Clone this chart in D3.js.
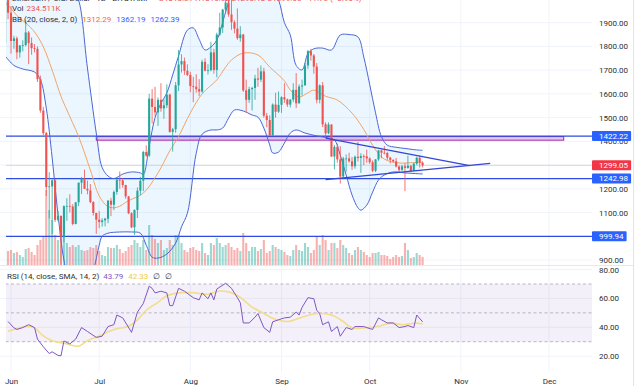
<!DOCTYPE html>
<html><head><meta charset="utf-8">
<script src="https://cdn.jsdelivr.net/npm/d3@7"></script>
<style>html,body{margin:0;padding:0;background:#fff;}svg{display:block;font-family:Roboto,"Noto Sans",sans-serif;}</style>
</head><body><svg id="c" width="640" height="386"></svg>
<script>
// ---------- DATA ----------
const dates = ["2022-05-30","2022-05-31",
"2022-06-01","2022-06-02","2022-06-03","2022-06-04","2022-06-05","2022-06-06","2022-06-07","2022-06-08","2022-06-09","2022-06-10","2022-06-11","2022-06-12","2022-06-13","2022-06-14","2022-06-15","2022-06-16","2022-06-17","2022-06-18","2022-06-19","2022-06-20","2022-06-21","2022-06-22","2022-06-23","2022-06-24","2022-06-25","2022-06-26","2022-06-27","2022-06-28","2022-06-29","2022-06-30",
"2022-07-01","2022-07-02","2022-07-03","2022-07-04","2022-07-05","2022-07-06","2022-07-07","2022-07-08","2022-07-09","2022-07-10","2022-07-11","2022-07-12","2022-07-13","2022-07-14","2022-07-15","2022-07-16","2022-07-17","2022-07-18","2022-07-19","2022-07-20","2022-07-21","2022-07-22","2022-07-23","2022-07-24","2022-07-25","2022-07-26","2022-07-27","2022-07-28","2022-07-29","2022-07-30","2022-07-31",
"2022-08-01","2022-08-02","2022-08-03","2022-08-04","2022-08-05","2022-08-06","2022-08-07","2022-08-08","2022-08-09","2022-08-10","2022-08-11","2022-08-12","2022-08-13","2022-08-14","2022-08-15","2022-08-16","2022-08-17","2022-08-18","2022-08-19","2022-08-20","2022-08-21","2022-08-22","2022-08-23","2022-08-24","2022-08-25","2022-08-26","2022-08-27","2022-08-28","2022-08-29","2022-08-30","2022-08-31",
"2022-09-01","2022-09-02","2022-09-03","2022-09-04","2022-09-05","2022-09-06","2022-09-07","2022-09-08","2022-09-09","2022-09-10","2022-09-11","2022-09-12","2022-09-13","2022-09-14","2022-09-15","2022-09-16","2022-09-17","2022-09-18","2022-09-19","2022-09-20","2022-09-21","2022-09-22","2022-09-23","2022-09-24","2022-09-25","2022-09-26","2022-09-27","2022-09-28","2022-09-29","2022-09-30",
"2022-10-01","2022-10-02","2022-10-03","2022-10-04","2022-10-05","2022-10-06","2022-10-07","2022-10-08","2022-10-09","2022-10-10","2022-10-11","2022-10-12","2022-10-13","2022-10-14","2022-10-15","2022-10-16","2022-10-17","2022-10-18","2022-10-19"];

const open = [1813,1995,
1942,1823,1834,1775,1804,1806,1859,1814,1793,1790,1662,1530,1435,1207,1210,1236,1069,1086,996,1127,1128,1125,1052,1143,1226,1243,1200,1193,1144,1098,
1070,1060,1067,1074,1150,1133,1187,1238,1236,1216,1168,1097,1038,1111,1192,1234,1355,1340,1580,1545,1522,1575,1539,1552,1597,1440,1451,1636,1724,1738,1697,
1680,1633,1630,1620,1610,1735,1698,1700,1775,1701,1850,1880,1955,1985,1935,1902,1875,1835,1850,1615,1575,1620,1625,1665,1660,1695,1508,1490,1425,1555,1525,
1554,1586,1577,1555,1576,1617,1560,1631,1636,1720,1780,1762,1715,1575,1636,1472,1434,1471,1336,1377,1324,1252,1328,1328,1316,1295,1335,1330,1338,1337,
1328,1312,1276,1324,1362,1352,1351,1331,1322,1316,1294,1280,1295,1288,1297,1275,1306,1331,1310];
const high = [2005,2010,
1970,1845,1842,1806,1826,1912,1865,1838,1810,1800,1677,1545,1440,1270,1240,1240,1106,1087,1130,1160,1177,1135,1145,1226,1250,1281,1235,1220,1148,1099,
1106,1076,1078,1153,1162,1193,1244,1273,1246,1217,1170,1101,1113,1206,1250,1360,1383,1600,1620,1630,1585,1645,1580,1640,1600,1457,1650,1785,1767,1753,1725,
1693,1672,1683,1662,1744,1750,1725,1820,1790,1858,1942,1958,2020,2030,2012,1910,1960,1885,1853,1660,1630,1630,1680,1710,1720,1710,1520,1510,1560,1605,1610,
1590,1645,1580,1578,1645,1688,1640,1660,1730,1785,1790,1768,1730,1640,1650,1480,1480,1472,1385,1390,1380,1335,1345,1352,1334,1340,1398,1350,1345,1365,
1333,1320,1325,1364,1365,1380,1356,1335,1324,1330,1298,1300,1308,1340,1300,1310,1335,1340,1315];
const low = [1792,1915,
1770,1790,1746,1753,1779,1800,1725,1765,1775,1650,1520,1425,1170,1075,1010,1060,1062,880,975,1065,1101,1046,1050,1127,1178,1200,1177,1140,1087,1010,
1034,1040,1042,1055,1085,1110,1175,1200,1205,1158,1093,1034,1006,1077,1173,1190,1334,1335,1475,1505,1465,1525,1495,1540,1436,1357,1436,1612,1690,1680,1675,
1607,1565,1605,1590,1604,1695,1682,1695,1685,1670,1845,1857,1942,1925,1870,1855,1828,1820,1608,1520,1562,1530,1575,1630,1650,1500,1460,1425,1422,1500,1520,
1520,1562,1545,1543,1565,1540,1560,1593,1635,1705,1740,1685,1560,1560,1460,1415,1430,1335,1282,1310,1222,1240,1272,1310,1280,1285,1315,1267,1300,1310,
1305,1270,1270,1318,1329,1345,1320,1307,1310,1290,1270,1275,1190,1285,1275,1275,1300,1290,1290];
const close = [1995,1942,
1823,1834,1775,1804,1806,1859,1814,1793,1790,1662,1530,1435,1207,1210,1236,1069,1086,996,1127,1128,1125,1052,1143,1226,1243,1200,1193,1144,1098,1070,
1060,1067,1074,1150,1133,1187,1238,1236,1216,1168,1097,1038,1111,1192,1234,1355,1340,1580,1545,1522,1575,1539,1552,1597,1440,1451,1636,1724,1738,1697,1680,
1633,1630,1620,1610,1735,1698,1700,1775,1701,1850,1880,1955,1985,1935,1902,1875,1835,1850,1615,1575,1620,1625,1665,1660,1695,1508,1490,1425,1555,1525,1554,
1586,1577,1555,1576,1617,1560,1631,1636,1720,1780,1762,1715,1575,1636,1472,1434,1471,1336,1377,1324,1252,1328,1328,1316,1295,1335,1330,1338,1337,1328,
1312,1276,1324,1362,1352,1351,1331,1322,1316,1294,1280,1295,1288,1297,1275,1306,1331,1310,1299.05];
// volume in thousands
const volume = [522,406,
435,348,377,290,232,464,493,377,290,580,725,812,2175,1595,1305,870,725,1305,870,638,522,580,522,580,435,406,435,522,493,580,
406,290,261,522,493,493,580,464,348,406,522,580,725,638,522,725,435,1160,870,754,638,725,435,493,725,580,870,870,638,435,
377,493,522,435,406,638,348,290,638,580,783,638,522,580,638,522,435,493,406,928,638,406,522,522,406,464,725,348,406,580,522,
464,435,377,290,261,435,580,435,406,638,522,348,435,812,580,870,725,435,638,638,493,725,580,493,348,290,435,522,435,377,
290,232,348,348,377,290,290,261,174,232,290,232,261,638,435,203,232,348,290,234.511];

// Bollinger Bands (20, close, 2): day offset from 2022-06-01 -> price
const bbUpperDays = [-2,2,6,10,14,18,21,23,26,29,31,33,35,38,41,44,45,47,49,51,53,55,57,60,62,64,66,68,70,73,76,80,84,88,91,93,95,97,99,101,103,106,109,112,115,118,120,122,124,126,128,131,134,137,140];
const bbUpper = [2170,2130,2110,2100,2120,2080,2040,1995,1709,1435,1290,1254,1243,1262,1271,1267,1260,1380,1500,1560,1604,1680,1760,1869,1878,1830,1785,1798,1827,1945,2060,2150,2140,2060,1996,1900,1848,1720,1701,1770,1790,1793,1785,1848,1850,1840,1755,1640,1520,1420,1384,1375,1370,1365,1362.19];
const bbBasisDays = [-2,0,2,5,8,11,14,17,19,23,27,30,33,36,40,45,50,54,57,61,65,70,73,75,79,84,88,93,95,98,101,103,107,111,116,120,124,127,132,136,140];
const bbBasis = [1985,1960,1930,1899,1861,1798,1700,1590,1532,1420,1279,1170,1125,1122,1150,1182,1267,1360,1420,1520,1600,1659,1713,1743,1772,1764,1713,1655,1616,1587,1605,1616,1590,1574,1519,1450,1364,1325,1309,1310,1312.29];
const bbLowerDays = [-2,1,4,8,10,12,14,16,18,20,23,26,28,30,31,33,37,41,44,46,48,50,53,56,58,60,63,65,68,70,72,74,76,79,82,84,86,88,89,91,93,95,97,100,104,108,110,112,114,116,118,119,121,123,125,127,130,134,140];
const bbLower = [1760,1720,1705,1692,1660,1540,1330,1090,900,800,760,810,858,962,1000,1013,1018,1018,1013,962,912,908,925,971,1040,1097,1350,1430,1448,1448,1456,1498,1532,1528,1511,1502,1456,1385,1351,1355,1393,1435,1448,1435,1423,1414,1406,1342,1258,1174,1120,1110,1131,1186,1237,1258,1271,1267,1262.39];

// RSI (14) and its SMA (14)
const rsiDays = [-1,1,2,4,6,8,9,11,13,14,16,17,18,20,22,24,26,29,31,33,35,36,38,41,43,45,47,48,49,51,53,54,55,57,59,62,64,65,67,68,69,70,73,75,77,78,79,81,83,84,86,88,89,91,93,95,97,98,99,101,103,104,105,106,108,109,111,112,114,116,117,120,121,123,125,126,128,130,132,134,135,137,138,140];
const rsiVals = [44,39.6,38.5,39.8,41.8,39.8,31.8,26.5,21.8,23,20.5,20.2,30.5,28.5,31.8,39.8,37.1,33,33.8,40.5,41.8,48.5,46.5,36.5,50.5,56.5,68.5,67,63.8,65,63.8,55,55,67,65,60.5,59,63.8,59.8,63.8,59,66.5,70.5,67,60.5,57,43,43,47,49.5,39.8,36.5,43.8,45.2,46.5,47,50.5,48.5,53.8,60.5,59.8,51.8,49.5,41.8,43.8,37.1,40.5,33.8,39.8,38.5,40.5,40.5,39.8,38.5,46.5,45.2,43,43,39.8,40.5,41.2,39.8,48.5,43.79];
const rsiMaDays = [-1,6,8,11,14,19,23,26,30,35,40,43,46,50,53,58,62,67,71,75,78,82,86,89,94,98,104,109,113,116,120,125,129,133,138,140];
const rsiMaVals = [37.3,40.7,39.6,34,30.7,28.5,26.9,30.7,34,38.5,40.7,45.1,51.8,57.3,61.8,64,64,62.9,65.1,64,60.7,54,49.6,46.3,44,46.3,49.6,48.5,44,39.6,39.6,40.7,42.9,41.8,42.9,42.33];

// drawings
const levelPrices = [1422.22, 1242.98, 999.94];
const lastPrice = 1299.05;
const zone = {from:"2022-06-30", to:"2022-12-06", top:1420, bottom:1405};
const trendUpper = [["2022-09-16",1414],["2022-11-04",1298]];
const trendLower = [["2022-09-16",1239],["2022-11-11",1307]];
// 1000.00 and 1300.00 sit fully under the price badges in the reference, so they are not shown
const priceTicks = [900,1100,1200,1400,1500,1600,1700,1800,1900];
const gridPrices = [900,1000,1100,1200,1300,1400,1500,1600,1700,1800,1900];
const rsiTicks = [20,40,60,80];

// ---------- SCALES ----------
const svg = d3.select('#c');
const PR = 592, PB = 265, RT = 265, RB = 372, LX = 6, H = 386;
const parse = d3.utcParse('%Y-%m-%d');
const base = parse("2022-06-01");
const dayDate = d => d3.utcDay.offset(base, d);
const x = d3.scaleUtc().domain([new Date(Date.UTC(2022,4,28)), new Date(Date.UTC(2022,11,12))]).range([-0.76, 581.36]);
const yP = d3.scaleLinear().domain([900,1900]).range([260,22.7]);
const yV = d3.scaleLinear().domain([0,2900]).range([PB, PB-100]);
const yR = d3.scaleLinear().domain([0,100]).range([385.0, 240.7]);

const defs = svg.append('defs');
defs.append('clipPath').attr('id','cp').append('rect').attr('x',LX).attr('y',0).attr('width',PR-LX).attr('height',PB);
defs.append('clipPath').attr('id','cr').append('rect').attr('x',LX).attr('y',RT).attr('width',PR-LX).attr('height',RB-RT);

// grid
const months = x.ticks(d3.utcMonth.every(1));
const grid = svg.append('g').attr('stroke','#f0f3fa').attr('stroke-width',1);
grid.selectAll('.v').data(months).join('line').attr('x1',d=>x(d)).attr('x2',d=>x(d)).attr('y1',0).attr('y2',RB);
grid.selectAll('.h').data(gridPrices).join('line').attr('x1',0).attr('x2',PR).attr('y1',d=>yP(d)).attr('y2',d=>yP(d));
grid.selectAll('.r').data(rsiTicks).join('line').attr('x1',0).attr('x2',PR).attr('y1',d=>yR(d)).attr('y2',d=>yR(d));

// ---------- PRICE PANE ----------
const gp = svg.append('g').attr('clip-path','url(#cp)');
const curve = d3.curveCatmullRom.alpha(0.5);
const upPts = bbUpperDays.map((d,i)=>[x(dayDate(d)), yP(bbUpper[i])]);
const loPts = bbLowerDays.map((d,i)=>[x(dayDate(d)), yP(bbLower[i])]);
const midPts = bbBasisDays.map((d,i)=>[x(dayDate(d)), yP(bbBasis[i])]);
const ln = d3.line().curve(curve);
gp.append('path').attr('d', ln(upPts) + 'L' + ln(loPts.slice().reverse()).slice(1) + 'Z')
  .attr('fill','rgba(33,150,243,0.085)').attr('stroke','none');

// volume
const candles = dates.map((d,i)=>({date:parse(d), o:open[i], h:high[i], l:low[i], c:close[i], v:volume[i]}));
gp.selectAll('.vol').data(candles).join('rect')
  .attr('x',d=>x(d.date)-1.05).attr('width',2.1)
  .attr('y',d=>yV(d.v)).attr('height',d=>PB-yV(d.v))
  .attr('fill',d=>d.c>=d.o?'rgba(38,166,154,0.45)':'rgba(239,83,80,0.45)');

// current price line
gp.append('line').attr('x1',LX).attr('x2',PR).attr('y1',yP(lastPrice)).attr('y2',yP(lastPrice))
  .attr('stroke','#d6d6d6').attr('stroke-width',1);

// zone rectangle
gp.append('rect').attr('x',x(parse(zone.from))).attr('width',x(parse(zone.to))-x(parse(zone.from)))
  .attr('y',yP(zone.top)).attr('height',yP(zone.bottom)-yP(zone.top))
  .attr('fill','rgba(186,104,200,0.35)').attr('stroke','#9c27b0').attr('stroke-width',1);

// level lines
gp.selectAll('.lvl').data(levelPrices).join('line')
  .attr('x1',LX).attr('x2',PR).attr('y1',d=>yP(d)).attr('y2',d=>yP(d))
  .attr('stroke','#2f4be0').attr('stroke-width',1.3);

// BB lines
gp.append('path').attr('d',ln(upPts)).attr('fill','none').attr('stroke','#4a67d8').attr('stroke-width',1);
gp.append('path').attr('d',ln(loPts)).attr('fill','none').attr('stroke','#4a67d8').attr('stroke-width',1);
gp.append('path').attr('d',ln(midPts)).attr('fill','none').attr('stroke','#f2a567').attr('stroke-width',1);

// candles
const cg = gp.append('g');
cg.selectAll('.wk').data(candles).join('line')
  .attr('x1',d=>x(d.date)).attr('x2',d=>x(d.date)).attr('y1',d=>yP(d.h)).attr('y2',d=>yP(d.l))
  .attr('stroke',d=>d.c>=d.o?'#26a69a':'#ef5350').attr('stroke-width',0.8);
cg.selectAll('.bd').data(candles).join('rect')
  .attr('x',d=>x(d.date)-1.05).attr('width',2.1)
  .attr('y',d=>yP(Math.max(d.o,d.c))).attr('height',d=>Math.max(0.8,Math.abs(yP(d.o)-yP(d.c))))
  .attr('fill',d=>d.c>=d.o?'#26a69a':'#ef5350');

// triangle trendlines
[trendUpper, trendLower].forEach(t=>{
  gp.append('line').attr('x1',x(parse(t[0][0]))).attr('y1',yP(t[0][1]))
    .attr('x2',x(parse(t[1][0]))).attr('y2',yP(t[1][1]))
    .attr('stroke','#3346d3').attr('stroke-width',1.3);
});

// ---------- RSI PANE ----------
const gr = svg.append('g').attr('clip-path','url(#cr)');
gr.append('rect').attr('x',0).attr('width',PR).attr('y',yR(70)).attr('height',yR(30)-yR(70)).attr('fill','rgba(126,87,194,0.09)');
gr.selectAll('.dl').data([70,50,30]).join('line').attr('x1',0).attr('x2',PR).attr('y1',d=>yR(d)).attr('y2',d=>yR(d))
  .attr('stroke','#b3aec2').attr('stroke-width',0.9).attr('stroke-dasharray','3,2.5');
gr.append('path').attr('d', d3.line().curve(curve)(rsiMaDays.map((d,i)=>[x(dayDate(d)), yR(rsiMaVals[i])])))
  .attr('fill','none').attr('stroke','#f3dc8a').attr('stroke-width',1.6);
gr.append('path').attr('d', d3.line()(rsiDays.map((d,i)=>[x(dayDate(d)), yR(rsiVals[i])])))
  .attr('fill','none').attr('stroke','#7e57c2').attr('stroke-width',1);

// separators
svg.append('line').attr('x1',0).attr('x2',633).attr('y1',PB+0.5).attr('y2',PB+0.5).attr('stroke','#e6e8ee');
svg.append('line').attr('x1',633.5).attr('x2',633.5).attr('y1',0).attr('y2',H).attr('stroke','#e0e3eb');

// ---------- AXES ----------
const fmt = d3.format('.2f');
const ap = svg.append('g').attr('transform',`translate(${PR},0)`)
  .call(d3.axisRight(yP).tickValues(priceTicks).tickFormat(fmt).tickSize(0).tickPadding(7));
ap.select('.domain').remove();
ap.selectAll('text').attr('font-size',8).attr('fill','#2a2e39').attr('font-family','Roboto,sans-serif');

defs.append('clipPath').attr('id','ca').append('rect').attr('x',PR).attr('y',RT-1).attr('width',48).attr('height',RB-RT+1);
const ar = svg.append('g').attr('clip-path','url(#ca)').append('g').attr('transform',`translate(${PR},0)`)
  .call(d3.axisRight(yR).tickValues(rsiTicks).tickFormat(fmt).tickSize(0).tickPadding(7));
ar.select('.domain').remove();
ar.selectAll('text').attr('font-size',8).attr('fill','#2a2e39').attr('font-family','Roboto,sans-serif');

const ax = svg.append('g').attr('transform',`translate(0,${RB})`)
  .call(d3.axisBottom(x).ticks(d3.utcMonth.every(1)).tickFormat(d3.utcFormat('%b')).tickSize(0).tickPadding(6));
ax.select('.domain').remove();
ax.selectAll('text').attr('font-size',8).attr('fill','#2a2e39').attr('font-family','Roboto,sans-serif');

// badges
const badges = levelPrices.map(v=>({v, c:'#2962ff'})).concat([{v:lastPrice, c:'#f23645'}]);
badges.forEach(b=>{
  const g = svg.append('g');
  const r = g.append('rect').attr('fill',b.c);
  const t = g.append('text').attr('x',PR+7).attr('y',yP(b.v)).attr('dy','0.35em')
    .attr('font-size',8).attr('fill','#fff').text(fmt(b.v));
  const w = t.node().getComputedTextLength();
  r.attr('x',PR).attr('y',yP(b.v)-5).attr('width',7+w+3).attr('height',10).attr('rx',1);
});

// ---------- LEGENDS ----------
function legend(xp, yp, parts){
  const t = svg.append('text').attr('x',xp).attr('y',yp).attr('font-size',8);
  parts.forEach(p=>t.append('tspan').attr('fill',p[1]).attr('dx',p[2]||0).text(p[0]));
}
legend(12, 0.5, [["Ethereum / U.S. Dollar · 1D · BITSTAMP","#2a2e39"],["O1310.81  H1315.62  L1290.13  C1299.05  −11.76 (−0.90%)","#ef5350",8]]);
legend(12, 10.7, [["Vol","#2a2e39"],["234.511K","#ef5350",3]]);
legend(12, 22.2, [["BB (20, close, 2, 0)","#2a2e39"],["1312.29","#ff6d00",5],["1362.19","#2962ff",5],["1262.39","#2962ff",5]]);
legend(7, 279, [["RSI (14, close, SMA, 14, 2)","#2a2e39"],["43.79","#7e57c2",4],["42.33","#f0c93e",5],["∅","#2a2e39",5],["∅","#2a2e39",5]]);
</script></body></html>
